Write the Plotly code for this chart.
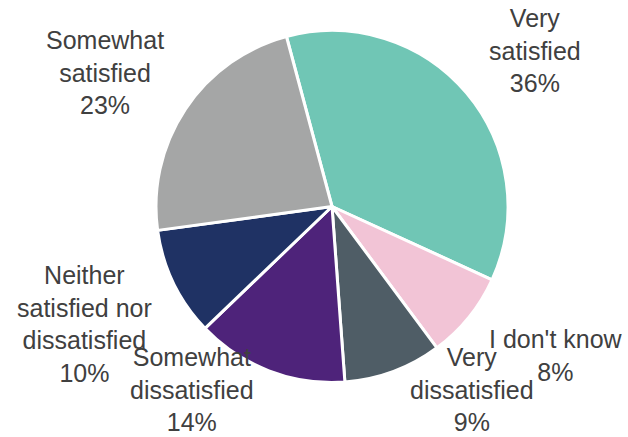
import plotly.graph_objects as go

# Data
categories = ["Very satisfied", "I don't know", "Very dissatisfied",
              "Somewhat dissatisfied", "Neither satisfied nor dissatisfied",
              "Somewhat satisfied"]
values = [36, 8, 9, 14, 10, 23]
label_lines = ["Very<br>satisfied", "I don't know", "Very<br>dissatisfied",
               "Somewhat<br>dissatisfied", "Neither<br>satisfied nor<br>dissatisfied",
               "Somewhat<br>satisfied"]
colors = ["#70C6B5", "#F2C4D6", "#4F5D66", "#4E237A", "#1F3264", "#A5A6A6"]

W, H = 628, 437
# label centres in pixels (layout only)
label_pos_px = [(535, 51), (556, 355), (472, 389), (192, 389), (84, 324), (105, 72)]

fig = go.Figure(go.Pie(
    labels=categories,
    values=values,
    sort=False,
    direction="clockwise",
    rotation=-15,
    marker=dict(colors=colors, line=dict(color="white", width=3)),
    textinfo="none",
    hoverinfo="label+percent",
    domain=dict(x=[156 / W, 508 / W], y=[(H - 382.5) / H, (H - 30.5) / H]),
    showlegend=False,
))

annotations = []
for txt, v, (px, py) in zip(label_lines, values, label_pos_px):
    annotations.append(dict(
        text=f"{txt}<br>{v}%",
        x=px / W, y=1 - py / H, xref="paper", yref="paper",
        xanchor="center", yanchor="middle", showarrow=False,
        align="center", borderpad=0,
        font=dict(family="Liberation Sans, Arial", size=25, color="#404040"),
    ))

fig.update_layout(
    width=W, height=H,
    margin=dict(l=0, r=0, t=0, b=0),
    paper_bgcolor="white", plot_bgcolor="white",
    annotations=annotations,
)

fig.write_html("out.html")
